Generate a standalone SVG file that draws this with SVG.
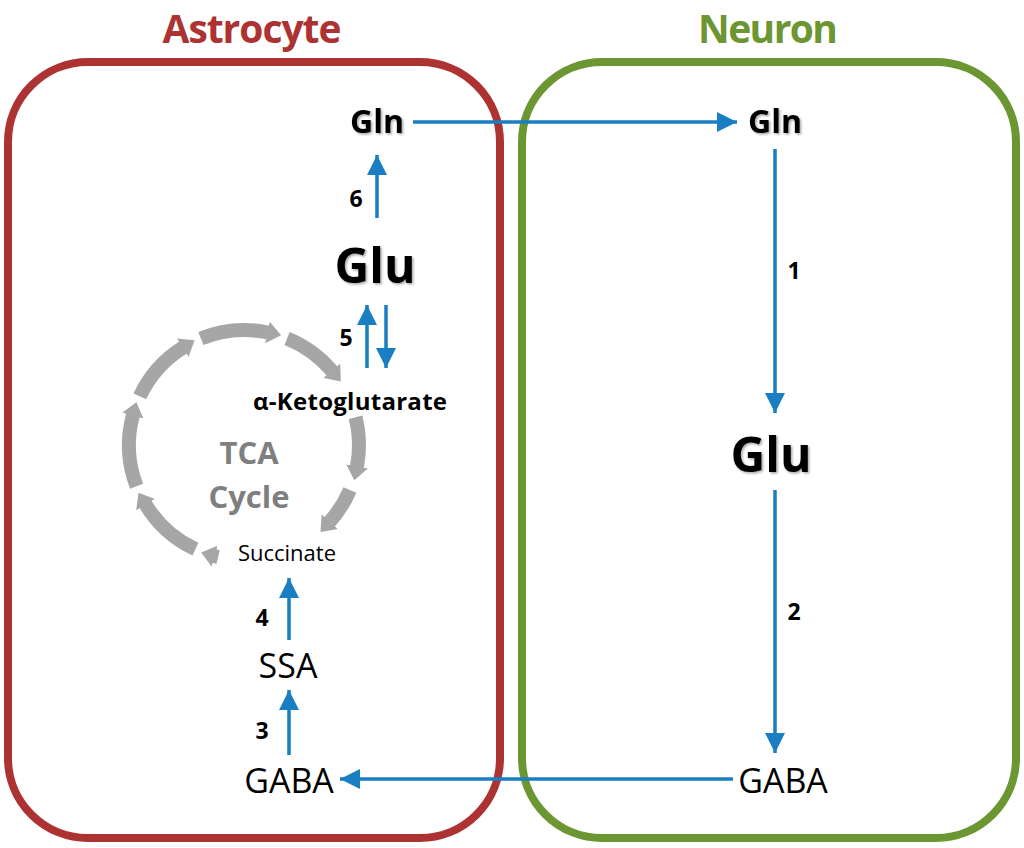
<svg xmlns="http://www.w3.org/2000/svg" width="1024" height="848" viewBox="0 0 1024 848">
<defs>
<style>
.t{font-family:"Open Sans","Liberation Sans",sans-serif;text-anchor:middle;fill:#000}
.b{font-weight:bold}
.title{font-size:39px;font-weight:bold}
.num{font-size:23px;font-weight:bold}
.blue{stroke:#1A7EC2;stroke-width:3.5;fill:none}
.ring{stroke:#A6A6A6;stroke-width:14;fill:none}
</style>
<marker id="ah" viewBox="0 0 20 20" refX="20" refY="10" markerWidth="20" markerHeight="20" markerUnits="userSpaceOnUse" orient="auto">
<path d="M0,0 L20,10 L0,20 Z" fill="#1A7EC2"/>
</marker>
<marker id="gh" viewBox="0 0 14 22" refX="0.5" refY="11" markerWidth="14" markerHeight="22" markerUnits="userSpaceOnUse" orient="auto">
<path d="M0,0 L14,11 L0,22 Z" fill="#A6A6A6"/>
</marker>
<filter id="sh" x="-10%" y="-10%" width="130%" height="130%">
<feDropShadow dx="1.5" dy="1.5" stdDeviation="1" flood-color="#000" flood-opacity="0.35"/>
</filter>
</defs>
<rect width="1024" height="848" fill="#fff"/>

<g id="astrocyte">
<rect x="8" y="62" width="492" height="776" rx="80" ry="80" fill="none" stroke="#AD3333" stroke-width="8"/>
<text class="t title" x="252" y="43" textLength="179" style="fill:#AD3333">Astrocyte</text>
</g>
<g id="neuron">
<rect x="522" y="62" width="494" height="776" rx="80" ry="80" fill="none" stroke="#6B9632" stroke-width="8"/>
<text class="t title" x="768" y="43" textLength="140" style="fill:#6B9632">Neuron</text>
</g>

<g id="tca-cycle">
<path class="ring" d="M200.9,338.4 A115,115 0 0 1 267.9,332.5" marker-end="url(#gh)"/>
<path class="ring" d="M287.1,338.4 A115,115 0 0 1 332.1,371.1" marker-end="url(#gh)"/>
<path class="ring" d="M355.6,417.2 A115,115 0 0 1 356.9,466.9" marker-end="url(#gh)"/>
<path class="ring" d="M349.9,489.9 A115,115 0 0 1 329.5,522.0" marker-end="url(#gh)"/>
<path class="ring" d="M218.1,557.1 A115,115 0 0 1 214.2,556.1" marker-end="url(#gh)"/>
<path class="ring" d="M195.4,549.2 A115,115 0 0 1 145.4,504.2" marker-end="url(#gh)"/>
<path class="ring" d="M136.6,486.2 A115,115 0 0 1 132.9,415.2" marker-end="url(#gh)"/>
<path class="ring" d="M139.8,396.4 A115,115 0 0 1 183.1,347.5" marker-end="url(#gh)"/>
<text class="t b" x="249" y="464" font-size="31" style="fill:#7F7F7F">TCA</text>
<text class="t b" x="249" y="508" font-size="31" style="fill:#7F7F7F">Cycle</text>
</g>

<g id="connectors">
<line class="blue" x1="413" y1="122" x2="737" y2="122" marker-end="url(#ah)"/>
<line class="blue" x1="377" y1="218" x2="377" y2="155" marker-end="url(#ah)"/>
<line class="blue" x1="367" y1="368" x2="367" y2="305" marker-end="url(#ah)"/>
<line class="blue" x1="386" y1="305" x2="386" y2="368" marker-end="url(#ah)"/>
<line class="blue" x1="289" y1="640" x2="289" y2="578" marker-end="url(#ah)"/>
<line class="blue" x1="289" y1="755" x2="289" y2="690" marker-end="url(#ah)"/>
<line class="blue" x1="733" y1="779" x2="340" y2="779" marker-end="url(#ah)"/>
<line class="blue" x1="775" y1="149" x2="775" y2="413" marker-end="url(#ah)"/>
<line class="blue" x1="775" y1="490" x2="775" y2="753" marker-end="url(#ah)"/>
</g>

<g id="labels">
<text class="t num" x="356" y="207">6</text>
<text class="t num" x="346" y="346">5</text>
<text class="t num" x="262" y="626">4</text>
<text class="t num" x="262" y="739">3</text>
<text class="t num" x="794" y="279">1</text>
<text class="t num" x="794" y="620">2</text>
</g>

<g id="astro-gln"><text class="t b" x="377" y="133" font-size="32" filter="url(#sh)">Gln</text></g>
<g id="astro-glu"><text class="t b" x="375" y="283" font-size="48" filter="url(#sh)">Glu</text></g>
<g id="akg"><text class="t b" x="350" y="410" font-size="24" textLength="194">α-Ketoglutarate</text></g>
<g id="succinate"><text class="t" x="287" y="561" font-size="22">Succinate</text></g>
<g id="ssa"><text class="t" x="288" y="678" font-size="34">SSA</text></g>
<g id="astro-gaba"><text class="t" x="289" y="793" font-size="34">GABA</text></g>
<g id="neuron-gln"><text class="t b" x="775" y="133" font-size="32" filter="url(#sh)">Gln</text></g>
<g id="neuron-glu"><text class="t b" x="771" y="472" font-size="48" filter="url(#sh)">Glu</text></g>
<g id="neuron-gaba"><text class="t" x="783" y="793" font-size="34">GABA</text></g>
</svg>
